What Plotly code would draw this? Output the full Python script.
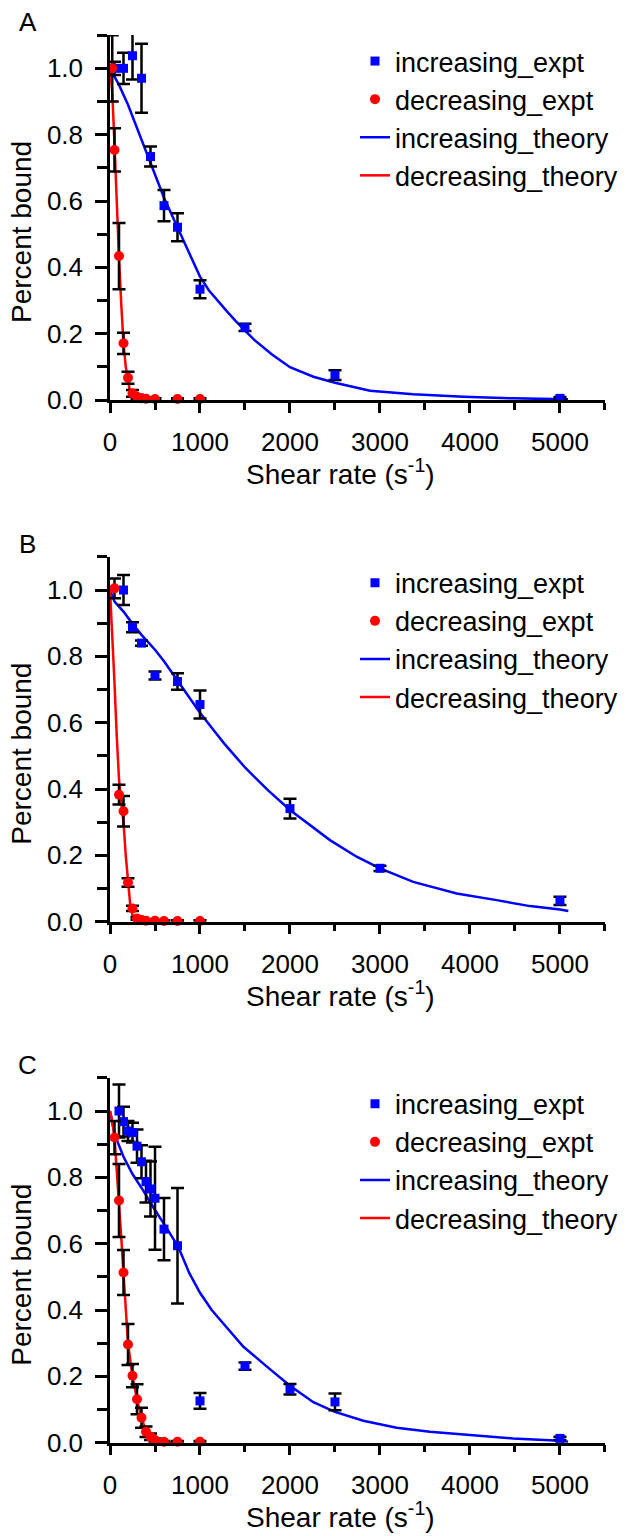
import plotly.graph_objects as go

W, H = 641, 1536

# ---------------- Panel A ----------------
inc_x_A = [50, 150, 250, 350, 450, 600, 750, 1000, 1500, 2500, 5000]
inc_y_A = [1.0, 1.0, 1.038, 0.97, 0.734, 0.586, 0.521, 0.334, 0.219, 0.075, 0.005]
inc_err_A = [0.02, 0.047, 0.072, 0.104, 0.03, 0.047, 0.042, 0.027, 0.011, 0.015, 0.004]

dec_x_A = [25, 50, 100, 150, 200, 250, 300, 350, 400, 500, 750, 1000]
dec_y_A = [1.0, 0.754, 0.434, 0.171, 0.067, 0.02, 0.01, 0.005, 0.004, 0.003, 0.003, 0.003]
dec_err_A = [0.1, 0.065, 0.1, 0.032, 0.018, 0.01, 0.006, 0.004, 0.003, 0.002, 0.002, 0.002]

th_inc_x_A = [0, 100, 200, 300, 400, 450, 500, 600, 700, 800, 900, 1000, 1100, 1200, 1300,
              1400, 1500, 1600, 1800, 2000, 2260, 2500, 2890, 3370, 3930, 4480, 5090]
th_inc_y_A = [1.0, 0.95, 0.89, 0.82, 0.75, 0.715, 0.68, 0.61, 0.55, 0.49, 0.428, 0.372, 0.33, 0.297, 0.267,
              0.237, 0.21, 0.182, 0.137, 0.099, 0.07, 0.052, 0.028, 0.017, 0.01, 0.005, 0.002]

th_dec_x_A = [0, 25, 50, 75, 100, 125, 150, 175, 200, 225, 250, 300, 400, 500]
th_dec_y_A = [1.0, 0.93, 0.77, 0.58, 0.43, 0.29, 0.17, 0.1, 0.055, 0.02, 0.006, 0.001, 0.0, 0.0]

# ---------------- Panel B ----------------
inc_x_B = [150, 250, 350, 500, 750, 1000, 2000, 3000, 5000]
inc_y_B = [1.0, 0.888, 0.84, 0.742, 0.724, 0.655, 0.341, 0.161, 0.063]
inc_err_B = [0.045, 0.015, 0.008, 0.012, 0.025, 0.042, 0.03, 0.008, 0.0125]

dec_x_B = [50, 100, 150, 200, 250, 300, 350, 400, 500, 600, 750, 1000]
dec_y_B = [1.005, 0.383, 0.333, 0.118, 0.04, 0.01, 0.005, 0.003, 0.003, 0.002, 0.002, 0.002]
dec_err_B = [0.03, 0.03, 0.046, 0.013, 0.008, 0.004, 0.003, 0.002, 0.002, 0.002, 0.002, 0.002]

th_inc_x_B = [0, 50, 150, 250, 350, 500, 600, 750, 900, 1000, 1150, 1270, 1500, 1760, 2000,
              2185, 2444, 2741, 3000, 3370, 3852, 4296, 4667, 5000, 5093]
th_inc_y_B = [1.0, 0.965, 0.935, 0.898, 0.865, 0.82, 0.785, 0.727, 0.67, 0.63, 0.578, 0.537, 0.465, 0.395, 0.337,
              0.298, 0.246, 0.196, 0.161, 0.12, 0.085, 0.065, 0.047, 0.037, 0.032]

th_dec_x_B = [0, 25, 50, 75, 100, 125, 150, 175, 200, 225, 250, 300, 350, 500]
th_dec_y_B = [1.0, 0.88, 0.72, 0.56, 0.43, 0.36, 0.3, 0.2, 0.11, 0.05, 0.02, 0.004, 0.0, 0.0]

# ---------------- Panel C ----------------
inc_x_C = [100, 150, 200, 250, 300, 350, 400, 450, 500, 600, 750, 1000, 1500, 2000, 2500, 5000]
inc_y_C = [1.0, 0.968, 0.94, 0.935, 0.894, 0.847, 0.787, 0.765, 0.737, 0.644, 0.594,
           0.126, 0.231, 0.161, 0.123, 0.013]
inc_err_C = [0.08, 0.045, 0.03, 0.03, 0.05, 0.05, 0.063, 0.083, 0.155, 0.094, 0.174,
             0.024, 0.011, 0.016, 0.025, 0.005]

dec_x_C = [50, 100, 150, 200, 250, 300, 350, 400, 450, 500, 600, 750, 1000]
dec_y_C = [0.92, 0.73, 0.513, 0.296, 0.202, 0.131, 0.075, 0.033, 0.018, 0.008, 0.003, 0.003, 0.003]
dec_err_C = [0.05, 0.11, 0.068, 0.062, 0.035, 0.045, 0.03, 0.016, 0.01, 0.005, 0.002, 0.002, 0.002]

th_inc_x_C = [0, 50, 150, 250, 370, 480, 630, 760, 880, 1000, 1130, 1260, 1480, 1740, 2000, 2260, 2500,
              2815, 3185, 3556, 4000, 4480, 5000, 5090]
th_inc_y_C = [1.0, 0.93, 0.862, 0.81, 0.76, 0.71, 0.647, 0.59, 0.512, 0.452, 0.40, 0.36, 0.29, 0.23, 0.172,
              0.122, 0.093, 0.066, 0.045, 0.033, 0.023, 0.013, 0.006, 0.003]

th_dec_x_C = [0, 25, 50, 75, 100, 125, 150, 175, 200, 250, 300, 350, 400, 450, 500, 600, 700, 800]
th_dec_y_C = [1.0, 0.97, 0.92, 0.83, 0.73, 0.62, 0.51, 0.40, 0.30, 0.2, 0.13, 0.075, 0.035, 0.015,
              0.007, 0.002, 0.0, 0.0]

panel_letters = ["A", "B", "C"]
legend_names = ["increasing_expt", "decreasing_expt", "increasing_theory", "decreasing_theory"]
x_title = "Shear rate (s<sup>-1</sup>)"
y_title = "Percent bound"
x_tick_vals = [0, 1000, 2000, 3000, 4000, 5000]
y_tick_vals = [0.0, 0.2, 0.4, 0.6, 0.8, 1.0]

panels = [
    dict(ix=inc_x_A, iy=inc_y_A, ie=inc_err_A, dx=dec_x_A, dy=dec_y_A, de=dec_err_A,
         tix=th_inc_x_A, tiy=th_inc_y_A, tdx=th_dec_x_A, tdy=th_dec_y_A),
    dict(ix=inc_x_B, iy=inc_y_B, ie=inc_err_B, dx=dec_x_B, dy=dec_y_B, de=dec_err_B,
         tix=th_inc_x_B, tiy=th_inc_y_B, tdx=th_dec_x_B, tdy=th_dec_y_B),
    dict(ix=inc_x_C, iy=inc_y_C, ie=inc_err_C, dx=dec_x_C, dy=dec_y_C, de=dec_err_C,
         tix=th_inc_x_C, tiy=th_inc_y_C, tdx=th_dec_x_C, tdy=th_dec_y_C),
]

BLUE = "#0000ff"
RED = "#ff0000"
FONT = "Liberation Sans, Arial, sans-serif"

# pixel positions of y=0 and y=1.1 for each panel
y0_px = [400.0, 921.7, 1442.7]
ytop_px = [35.0, 556.7, 1077.7]
x_left_px, x_right_px = 110.0, 605.0

fig = go.Figure()
layout = dict(
    width=W, height=H,
    margin=dict(l=0, r=0, t=0, b=0),
    paper_bgcolor="white", plot_bgcolor="white",
    font=dict(family=FONT, size=26, color="black"),
    showlegend=True,
    annotations=[],
)

for i, p in enumerate(panels):
    k = "" if i == 0 else str(i + 1)
    xa, ya = "x" + k, "y" + k
    leg = "legend" + k
    # theory lines
    fig.add_trace(go.Scatter(x=p["tix"], y=p["tiy"], mode="lines", name=legend_names[2],
                             line=dict(color=BLUE, width=2.5), xaxis=xa, yaxis=ya,
                             legend=leg, legendrank=3, cliponaxis=False))
    fig.add_trace(go.Scatter(x=p["tdx"], y=p["tdy"], mode="lines", name=legend_names[3],
                             line=dict(color=RED, width=2.5), xaxis=xa, yaxis=ya,
                             legend=leg, legendrank=4, cliponaxis=False))
    # experimental points
    fig.add_trace(go.Scatter(x=p["ix"], y=p["iy"], mode="markers", name=legend_names[0],
                             marker=dict(symbol="square", size=9, color=BLUE, line=dict(width=0)),
                             error_y=dict(type="data", array=p["ie"], color="black", thickness=2.5, width=6.5),
                             xaxis=xa, yaxis=ya, legend=leg, legendrank=1, cliponaxis=False))
    fig.add_trace(go.Scatter(x=p["dx"], y=p["dy"], mode="markers", name=legend_names[1],
                             marker=dict(symbol="circle", size=10, color=RED, line=dict(width=0)),
                             error_y=dict(type="data", array=p["de"], color="black", thickness=2.5, width=6.5),
                             xaxis=xa, yaxis=ya, legend=leg, legendrank=2, cliponaxis=False))

    ydom = [1 - y0_px[i] / H, 1 - ytop_px[i] / H]
    layout["xaxis" + k] = dict(
        domain=[x_left_px / W, x_right_px / W], anchor=ya, range=[0, 5500.5],
        tickvals=x_tick_vals, ticks="outside", ticklen=10, tickwidth=2.5, tickcolor="black",
        showline=True, linewidth=2.5, linecolor="black", showgrid=False, zeroline=False,
        tickfont=dict(size=26), automargin=False, ticklabelstandoff=7,
        minor=dict(dtick=500, tick0=0, ticks="outside", ticklen=7, tickwidth=2.5, tickcolor="black", showgrid=False),
    )
    layout["yaxis" + k] = dict(
        domain=ydom, anchor=xa, range=[0, 1.1005],
        tickvals=y_tick_vals, tickformat=".1f", ticks="outside", ticklen=12, tickwidth=2.5, tickcolor="black",
        showline=True, linewidth=2.5, linecolor="black", showgrid=False, zeroline=False,
        tickfont=dict(size=26), automargin=False, ticklabelstandoff=7,
        minor=dict(dtick=0.1, tick0=0, ticks="outside", ticklen=10, tickwidth=2.5, tickcolor="black", showgrid=False),
    )
    layout[leg] = dict(
        x=355 / W, xanchor="left", y=1 - (ytop_px[i] + 2) / H, yanchor="top",
        bgcolor="rgba(0,0,0,0)", borderwidth=0, font=dict(size=27, family=FONT),
        tracegroupgap=0,
    )
    # panel letter
    layout["annotations"].append(dict(
        text=panel_letters[i], x=27.5 / W, y=1 - (ytop_px[i] - 13) / H, xref="paper", yref="paper",
        showarrow=False, xanchor="center", yanchor="middle", font=dict(size=26)))
    # x title
    layout["annotations"].append(dict(
        text=x_title, x=340 / W, y=1 - (y0_px[i] + 72) / H, xref="paper", yref="paper",
        showarrow=False, xanchor="center", yanchor="middle", font=dict(size=28)))
    # y title
    layout["annotations"].append(dict(
        text=y_title, x=22 / W, y=1 - (y0_px[i] - 168) / H, xref="paper", yref="paper",
        showarrow=False, xanchor="center", yanchor="middle", textangle=-90, font=dict(size=28)))

fig.update_layout(**layout)
fig.write_html("out.html", config={"displayModeBar": False},
               post_script="document.body.style.margin='0';document.body.style.padding='0';")
